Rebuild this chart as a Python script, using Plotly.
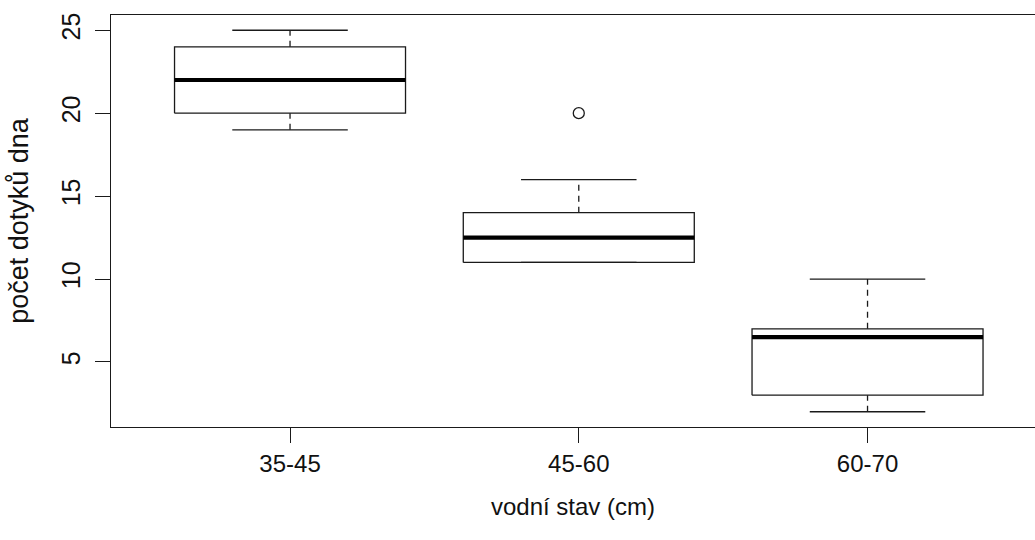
import plotly.graph_objects as go

# Water level classes and box statistics of bottom-contact counts
categories = ["35-45", "45-60", "60-70"]
whisker_low = [19, 11, 2]
q1 = [20, 11, 3]
median = [22, 12.5, 6.5]
q3 = [24, 14, 7]
whisker_high = [25, 16, 10]
outliers = [[], [20], []]

y_ticks = [5, 10, 15, 20, 25]

BOX_HALF = 0.4     # half of box width (boxwex 0.8)
CAP_HALF = 0.2     # half of whisker cap width
LINE = "#1a1a1a"
FONT = "Liberation Sans, Arial, sans-serif"

fig = go.Figure()


def seg(xs, ys, width=1.3, dash="solid", color=LINE):
    fig.add_trace(go.Scatter(
        x=xs, y=ys, mode="lines",
        line=dict(color=color, width=width, dash=dash),
        hoverinfo="skip", showlegend=False,
    ))


for i, cat in enumerate(categories):
    pos = i + 1
    # whiskers (dashed) from box edges to the caps
    seg([pos, pos], [whisker_low[i], q1[i]], dash="6px,5px")
    seg([pos, pos], [q3[i], whisker_high[i]], dash="6px,5px")
    # caps
    seg([pos - CAP_HALF, pos + CAP_HALF], [whisker_low[i], whisker_low[i]])
    seg([pos - CAP_HALF, pos + CAP_HALF], [whisker_high[i], whisker_high[i]])
    # box outline
    seg([pos - BOX_HALF, pos + BOX_HALF, pos + BOX_HALF, pos - BOX_HALF, pos - BOX_HALF],
        [q1[i], q1[i], q3[i], q3[i], q1[i]])
    # median
    seg([pos - BOX_HALF, pos + BOX_HALF], [median[i], median[i]], width=4.2, color="#000000")
    # outlying points
    if outliers[i]:
        fig.add_trace(go.Scatter(
            x=[pos] * len(outliers[i]), y=outliers[i], mode="markers",
            marker=dict(symbol="circle-open", size=11, color=LINE, line=dict(width=1.3)),
            hoverinfo="skip", showlegend=False,
        ))

fig.update_layout(
    width=1035, height=540,
    margin=dict(l=111, r=0, t=15, b=113),
    paper_bgcolor="white", plot_bgcolor="white",
    font=dict(family=FONT, size=24, color="#111111"),
    showlegend=False,
)

fig.update_xaxes(
    range=[0.38, 3.58],
    tickmode="array", tickvals=[1, 2, 3], ticktext=categories,
    ticks="outside", ticklen=15, tickwidth=1.3, tickcolor=LINE,
    showline=True, linecolor=LINE, linewidth=1.3, mirror=True,
    showgrid=False, zeroline=False,
    tickfont=dict(family=FONT, size=24),
    title=dict(text="vodní stav (cm)", font=dict(family=FONT, size=24), standoff=22),
)

fig.update_yaxes(
    range=[1.08, 25.92],
    tickmode="array", tickvals=y_ticks, ticktext=[str(v) for v in y_ticks],
    tickangle=-90,
    ticks="outside", ticklen=15, tickwidth=1.3, tickcolor=LINE,
    ticklabelstandoff=5,
    showline=True, linecolor=LINE, linewidth=1.3,
    showgrid=False, zeroline=False,
    tickfont=dict(family=FONT, size=25),
    title=dict(text="počet dotyků dna", font=dict(family=FONT, size=27), standoff=20),
)

fig.write_html("out.html")
